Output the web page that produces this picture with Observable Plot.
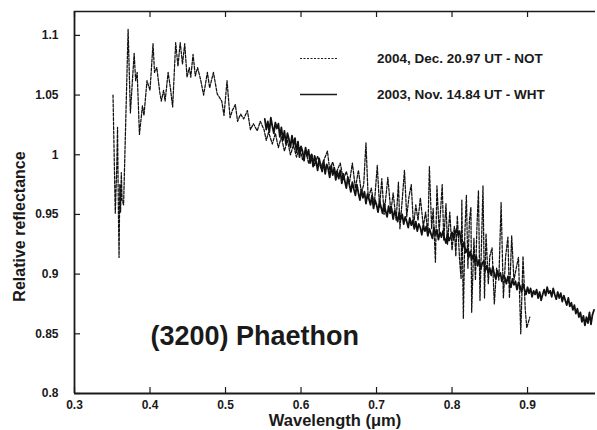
<!DOCTYPE html>
<html>
<head>
<meta charset="utf-8">
<script src="https://cdn.jsdelivr.net/npm/d3@7"></script>
<script src="https://cdn.jsdelivr.net/npm/@observablehq/plot@0.6"></script>
<style>
  html, body { margin: 0; padding: 0; background: white; }
  #chart svg { display: block; }
</style>
</head>
<body>
<div id="chart"></div>
<script>
// ---- data ----
const xDomain = [0.3, 0.99];
const yDomain = [0.8, 1.12];
const xTicks = [0.3, 0.4, 0.5, 0.6, 0.7, 0.8, 0.9];
const yTicks = [0.8, 0.85, 0.9, 0.95, 1.0, 1.05, 1.1];
const xLabel = "Wavelength (\u03bcm)";
const yLabel = "Relative reflectance";
const objectName = "(3200) Phaethon";
const seriesNames = ["2004, Dec. 20.97 UT - NOT", "2003, Nov. 14.84 UT - WHT"];

// NOT spectrum (dotted), [wavelength µm, relative reflectance]
const notSpectrum = [
[0.351,1.050],[0.354,0.951],[0.356,0.990],[0.357,1.023],[0.358,0.960],[0.359,0.914],[0.360,0.975],[0.361,0.952],[0.362,0.985],[0.363,0.962],
[0.365,0.958],[0.371,1.105],[0.374,1.035],[0.379,1.085],[0.381,1.062],[0.383,1.069],[0.386,1.017],[0.390,1.041],[0.392,1.033],[0.396,1.062],
[0.400,1.054],[0.404,1.093],[0.406,1.069],[0.409,1.073],[0.413,1.052],[0.415,1.045],[0.418,1.054],[0.420,1.045],[0.424,1.069],[0.427,1.056],
[0.430,1.040],[0.434,1.094],[0.437,1.074],[0.440,1.094],[0.443,1.076],[0.446,1.093],[0.449,1.065],[0.452,1.073],[0.454,1.065],[0.457,1.084],
[0.460,1.066],[0.463,1.073],[0.467,1.063],[0.471,1.050],[0.476,1.069],[0.479,1.056],[0.484,1.069],[0.489,1.051],[0.495,1.045],[0.498,1.033],
[0.502,1.062],[0.506,1.031],[0.509,1.037],[0.513,1.042],[0.516,1.028],[0.520,1.034],[0.524,1.030],[0.529,1.037],[0.533,1.021],[0.537,1.026],
[0.542,1.020],[0.546,1.028],[0.551,1.021],[0.554,1.012],[0.557,1.019],[0.562,1.009],[0.566,1.018],[0.570,1.006],[0.574,1.015],[0.578,1.003],
[0.582,1.012],[0.586,1.000],[0.590,1.008],[0.594,0.998],[0.598,1.006],[0.602,0.996],[0.606,1.004],[0.610,0.993],[0.614,1.001],[0.618,0.991],
[0.622,0.999],[0.626,0.989],[0.630,0.995],[0.635,1.003],[0.638,0.987],[0.642,0.994],[0.646,0.984],[0.652,0.993],[0.656,0.979],[0.660,0.986],
[0.664,0.976],[0.668,0.993],[0.672,0.972],[0.676,0.987],[0.680,0.968],[0.683,0.975],[0.686,1.010],[0.689,0.963],[0.693,0.972],[0.697,0.958],
[0.701,0.991],[0.704,0.956],[0.707,0.980],[0.710,0.950],[0.715,0.981],[0.719,0.952],[0.722,0.968],[0.726,0.945],[0.729,0.977],[0.731,0.938],
[0.734,0.962],[0.737,0.987],[0.740,0.948],[0.743,0.965],[0.746,0.975],[0.749,0.940],[0.752,0.958],[0.755,0.945],[0.758,0.964],[0.762,0.940],
[0.765,0.952],[0.768,0.934],[0.770,0.990],[0.773,0.938],[0.775,0.955],[0.778,0.910],[0.780,0.974],[0.783,0.935],[0.787,0.975],[0.789,0.928],
[0.792,0.959],[0.794,0.925],[0.797,0.952],[0.800,0.920],[0.803,0.940],[0.805,0.915],[0.807,0.949],[0.810,0.912],[0.812,0.896],[0.813,0.962],
[0.815,0.863],[0.817,0.935],[0.819,0.966],[0.821,0.905],[0.823,0.945],[0.825,0.956],[0.826,0.868],[0.829,0.930],[0.831,0.895],[0.833,0.940],
[0.835,0.970],[0.837,0.878],[0.839,0.925],[0.841,0.974],[0.843,0.880],[0.845,0.934],[0.848,0.892],[0.850,0.915],[0.853,0.922],[0.856,0.875],
[0.859,0.905],[0.862,0.895],[0.865,0.960],[0.868,0.880],[0.871,0.915],[0.874,0.931],[0.876,0.880],[0.879,0.932],[0.882,0.895],[0.885,0.905],
[0.888,0.914],[0.891,0.850],[0.894,0.915],[0.897,0.870],[0.899,0.855],[0.903,0.864]
];

// WHT spectrum (solid), [wavelength µm, relative reflectance]
const whtSpectrum = [
[0.552,1.030],[0.554,1.021],[0.556,1.028],[0.558,1.019],[0.560,1.031],[0.562,1.024],[0.564,1.018],[0.566,1.027],[0.568,1.022],
[0.570,1.026],[0.572,1.015],[0.574,1.023],[0.576,1.012],[0.578,1.020],[0.580,1.009],[0.582,1.018],[0.584,1.013],[0.586,1.006],[0.588,1.016],
[0.590,1.008],[0.592,1.014],[0.594,1.002],[0.596,1.011],[0.598,0.998],[0.600,1.007],[0.602,1.003],[0.604,0.995],[0.606,1.006],[0.608,0.999],
[0.610,1.004],[0.612,0.993],[0.614,1.000],[0.616,0.990],[0.618,0.999],[0.620,0.994],[0.622,0.987],[0.624,0.997],[0.626,0.991],[0.628,0.986],
[0.630,0.995],[0.632,0.984],[0.634,0.992],[0.636,0.988],[0.638,0.981],[0.640,0.991],[0.642,0.983],[0.644,0.989],[0.646,0.979],[0.648,0.986],
[0.650,0.980],[0.652,0.987],[0.654,0.976],[0.656,0.984],[0.658,0.978],[0.660,0.972],[0.662,0.981],[0.664,0.975],[0.666,0.969],[0.668,0.977],
[0.670,0.971],[0.672,0.966],[0.674,0.975],[0.676,0.968],[0.678,0.962],[0.680,0.971],[0.682,0.964],[0.684,0.969],[0.686,0.959],[0.688,0.967],
[0.690,0.963],[0.692,0.958],[0.694,0.966],[0.696,0.955],[0.698,0.962],[0.700,0.958],[0.702,0.952],[0.704,0.961],[0.706,0.956],[0.708,0.951],
[0.710,0.959],[0.712,0.953],[0.714,0.948],[0.716,0.957],[0.718,0.951],[0.720,0.955],[0.722,0.946],[0.724,0.953],[0.726,0.949],[0.728,0.944],
[0.730,0.952],[0.732,0.946],[0.734,0.950],[0.736,0.942],[0.738,0.948],[0.740,0.944],[0.742,0.939],[0.744,0.947],[0.746,0.941],[0.748,0.945],
[0.750,0.938],[0.752,0.944],[0.754,0.936],[0.756,0.942],[0.758,0.939],[0.760,0.933],[0.762,0.941],[0.764,0.936],[0.766,0.940],[0.768,0.932],
[0.770,0.938],[0.772,0.934],[0.774,0.930],[0.776,0.939],[0.778,0.933],[0.780,0.937],[0.782,0.929],[0.784,0.935],[0.786,0.931],[0.788,0.936],
[0.790,0.930],[0.792,0.926],[0.794,0.934],[0.796,0.928],[0.798,0.931],[0.800,0.935],[0.802,0.929],[0.804,0.934],[0.806,0.938],[0.808,0.933],
[0.810,0.936],[0.812,0.926],[0.814,0.922],[0.816,0.927],[0.818,0.918],[0.820,0.921],[0.822,0.914],[0.824,0.919],[0.826,0.912],[0.828,0.916],
[0.830,0.910],[0.832,0.915],[0.834,0.907],[0.836,0.912],[0.838,0.904],[0.840,0.909],[0.842,0.911],[0.844,0.903],[0.846,0.907],[0.848,0.901],
[0.850,0.905],[0.852,0.899],[0.854,0.906],[0.856,0.900],[0.858,0.896],[0.860,0.903],[0.862,0.898],[0.864,0.901],[0.866,0.894],[0.868,0.899],
[0.870,0.897],[0.872,0.892],[0.874,0.898],[0.876,0.893],[0.878,0.889],[0.880,0.896],[0.882,0.891],[0.884,0.894],[0.886,0.887],[0.888,0.893],
[0.890,0.890],[0.892,0.885],[0.894,0.892],[0.896,0.887],[0.898,0.883],[0.900,0.889],[0.902,0.884],[0.904,0.888],[0.906,0.881],[0.908,0.886],
[0.910,0.883],[0.912,0.887],[0.914,0.880],[0.916,0.885],[0.918,0.878],[0.920,0.883],[0.922,0.887],[0.924,0.882],[0.926,0.889],[0.928,0.884],
[0.930,0.886],[0.932,0.881],[0.934,0.888],[0.936,0.883],[0.938,0.879],[0.940,0.885],[0.942,0.880],[0.944,0.884],[0.946,0.877],[0.948,0.882],
[0.950,0.878],[0.952,0.874],[0.954,0.880],[0.956,0.873],[0.958,0.876],[0.960,0.870],[0.962,0.874],[0.964,0.867],[0.966,0.871],[0.968,0.864],
[0.970,0.868],[0.972,0.860],[0.974,0.865],[0.976,0.857],[0.978,0.864],[0.980,0.859],[0.982,0.868],[0.984,0.858],[0.986,0.866],[0.988,0.870]
];

// ---- layout ----
const W = 597, H = 430;
const mL = 74, mR = 2, mT = 11, mB = 37;
const innerW = W - mL - mR, innerH = H - mT - mB;
const ink = "#1a1a1a";
const fontFam = "'Liberation Sans', Arial, Helvetica, sans-serif";
const fmt = d => String(+d.toFixed(2));

const chart = Plot.plot({
  width: W, height: H,
  marginLeft: mL, marginRight: mR, marginTop: mT, marginBottom: mB,
  style: { fontFamily: fontFam, fontSize: "12px", fontWeight: "bold", color: ink, background: "white" },
  x: { domain: xDomain, ticks: xTicks, tickSize: 0, tickPadding: 7, tickFormat: fmt, label: null },
  y: { domain: yDomain, ticks: yTicks, tickSize: 0, tickPadding: 16, tickFormat: fmt, label: null },
  marks: [
    Plot.ruleX([xDomain[0]], { stroke: ink, strokeWidth: 1.8 }),
    Plot.ruleY([yDomain[0]], { stroke: ink, strokeWidth: 1.8 }),
    Plot.ruleY([yDomain[1]], { stroke: ink, strokeWidth: 1.6 }),
    Plot.tickX(xTicks, { x: d => d, insetTop: innerH - 6, stroke: ink, strokeWidth: 1.2 }),
    Plot.tickX(xTicks, { x: d => d, insetBottom: innerH - 6, stroke: ink, strokeWidth: 1.2 }),
    Plot.tickY(yTicks, { y: d => d, insetRight: innerW - 6, stroke: ink, strokeWidth: 1.2 }),
    Plot.line(notSpectrum, { x: d => d[0], y: d => d[1], stroke: "#111", strokeWidth: 1.25, strokeDasharray: "3,1.5" }),
    Plot.line(whtSpectrum, { x: d => d[0], y: d => d[1], stroke: "#111", strokeWidth: 1.8 }),
    Plot.text([objectName], { text: d => d, frameAnchor: "bottom-left", textAnchor: "start", lineAnchor: "middle",
      dx: 76, dy: -57, fontSize: 27, fontWeight: "bold", fill: ink }),
    Plot.text([xLabel], { text: d => d, frameAnchor: "bottom", textAnchor: "middle", lineAnchor: "middle", dy: 27, fontSize: 16.5, fontWeight: "bold", fill: ink }),
    Plot.text([yLabel], { text: d => d, frameAnchor: "left", textAnchor: "middle", lineAnchor: "middle", rotate: -90, dx: -55, dy: 24, fontSize: 16, fontWeight: "bold", fill: ink })
  ]
});

document.getElementById("chart").appendChild(chart);

// ---- legend inside the plot ----
const svg = d3.select(chart);
const lg = svg.append("g").attr("font-family", fontFam)
  .attr("font-weight", "bold").attr("font-size", 13.5).attr("fill", ink).attr("text-anchor", "start");
const legendRows = [
  { name: seriesNames[0], dash: "2,1.5", width: 1, y: 58.5 },
  { name: seriesNames[1], dash: null, width: 1.4, y: 94.5 }
];
legendRows.forEach(r => {
  lg.append("line").attr("x1", 300).attr("x2", 337).attr("y1", r.y).attr("y2", r.y)
    .attr("stroke", ink).attr("stroke-width", r.width).attr("stroke-dasharray", r.dash);
  lg.append("text").attr("x", 377).attr("y", r.y).attr("dy", "0.35em").attr("text-anchor", "start").text(r.name);
});
</script>
</body>
</html>
